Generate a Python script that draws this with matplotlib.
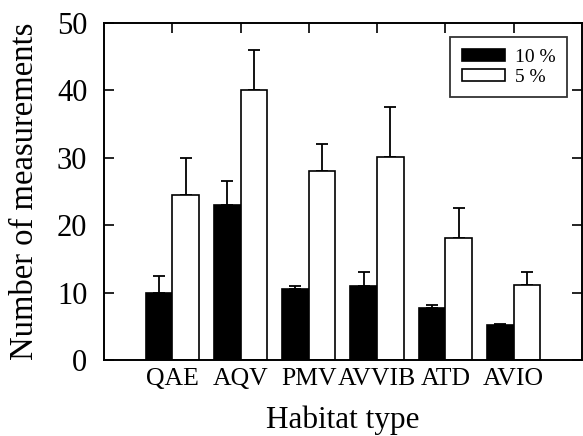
import matplotlib
matplotlib.use("Agg")
import matplotlib.pyplot as plt
import numpy as np

categories = ["QAE", "AQV", "PMV", "AVVIB", "ATD", "AVIO"]
vals_10 = [10.0, 23.0, 10.5, 11.0, 7.7, 5.2]
err_10 = [2.4, 3.5, 0.5, 2.0, 0.4, 0.1]
vals_5 = [24.5, 40.0, 28.0, 30.1, 18.1, 11.1]
err_5 = [5.5, 6.0, 4.0, 7.5, 4.5, 2.0]
series_labels = ["10 %", "5 %"]

plt.rcParams['font.family'] = ['Liberation Serif', 'DejaVu Serif']

fig = plt.figure(figsize=(5.83, 4.36), dpi=100)
ax = fig.add_axes([0.1784, 0.1743, 0.8196, 0.7729])

x = np.arange(1, len(categories) + 1)
w = 0.39
ax.bar(x - w / 2, vals_10, w, color='black', edgecolor='black', linewidth=1.2,
       label=series_labels[0], zorder=2)
ax.bar(x + w / 2, vals_5, w, color='white', edgecolor='black', linewidth=1.2,
       label=series_labels[1], zorder=2)
ax.errorbar(x - w / 2, vals_10, yerr=[np.zeros(len(err_10)), err_10], fmt='none',
            ecolor='black', elinewidth=1.3, capsize=4.3, capthick=1.3, zorder=1)
ax.errorbar(x + w / 2, vals_5, yerr=[np.zeros(len(err_5)), err_5], fmt='none',
            ecolor='black', elinewidth=1.3, capsize=4.3, capthick=1.3, zorder=1)

ax.set_xlim(0, 7)
ax.set_ylim(0, 50)
ax.set_xticks(x)
ax.set_xticklabels(categories, fontsize=18.5)
ax.set_yticks([0, 10, 20, 30, 40, 50])
ax.tick_params(axis='y', labelsize=22, direction='in', right=True, length=7, width=1.2, pad=12)
ax.tick_params(axis='x', direction='in', top=True, length=7, width=1.2, pad=6)
for s in ax.spines.values():
    s.set_linewidth(1.4)

ax.set_xlabel("Habitat type", fontsize=22.5, labelpad=11)
ax.set_ylabel("Number of measurements", fontsize=23.5, labelpad=12)

leg = ax.legend(loc='upper right', bbox_to_anchor=(0.97, 0.958), fontsize=14,
                frameon=True, fancybox=False, edgecolor='black', handlelength=2.2,
                handleheight=0.55, borderpad=0.6, labelspacing=0.15, handletextpad=0.55,
                borderaxespad=0)
leg.get_frame().set_linewidth(1.3)

fig.savefig("out.png", dpi=100)
